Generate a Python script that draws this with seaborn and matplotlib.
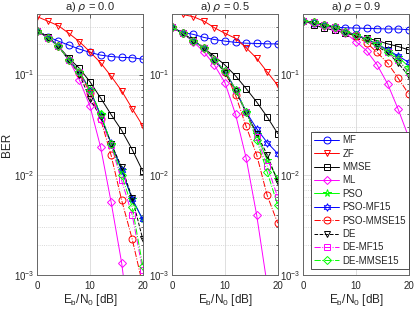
import numpy as np
import pandas as pd
import matplotlib
matplotlib.use('Agg')
import matplotlib.pyplot as plt
import seaborn as sns
from matplotlib.ticker import LogLocator, NullFormatter

# Eb/N0 grid [dB]
snr = [0, 2, 4, 6, 8, 10, 12, 14, 16, 18, 20]

# rho = 0.0
mf_00 = [0.273, 0.238, 0.215, 0.196, 0.179, 0.166, 0.156, 0.151, 0.148, 0.147, 0.142]
zf_00 = [0.376, 0.340, 0.306, 0.257, 0.212, 0.168, 0.131, 0.0962, 0.0687, 0.0458, 0.0308]
mmse_00 = [0.273, 0.238, 0.192, 0.145, 0.115, 0.0845, 0.0585, 0.0399, 0.0278, 0.0179, 0.0109]
ml_00 = [0.273, 0.232, 0.192, 0.139, 0.0878, 0.0483, 0.0190, 0.00537, 0.00133, 0.0002, 0.00002]
pso_00 = [0.273, 0.232, 0.192, 0.139, 0.106, 0.070, 0.040, 0.0205, 0.0113, 0.0057, 0.0036]
pso_mf_00 = [0.273, 0.232, 0.192, 0.139, 0.106, 0.069, 0.039, 0.0208, 0.0111, 0.0058, 0.0036]
pso_mmse_00 = [0.273, 0.232, 0.192, 0.139, 0.104, 0.066, 0.036, 0.0157, 0.0056, 0.0023, 0.0008]
de_00 = [0.273, 0.232, 0.192, 0.139, 0.100, 0.057, 0.038, 0.0205, 0.012, 0.0059, 0.0023]
de_mf_00 = [0.273, 0.232, 0.192, 0.139, 0.106, 0.070, 0.0358, 0.0197, 0.0088, 0.0040, 0.00112]
de_mmse_00 = [0.273, 0.232, 0.192, 0.139, 0.106, 0.0708, 0.0408, 0.0202, 0.0099, 0.0048, 0.00125]

# rho = 0.5
mf_05 = [0.294, 0.262, 0.251, 0.234, 0.223, 0.215, 0.209, 0.205, 0.204, 0.202, 0.202]
zf_05 = [0.45, 0.396, 0.376, 0.340, 0.292, 0.257, 0.229, 0.185, 0.145, 0.106, 0.078]
mmse_05 = [0.294, 0.257, 0.220, 0.182, 0.152, 0.124, 0.097, 0.0725, 0.0533, 0.0378, 0.0258]
ml_05 = [0.294, 0.257, 0.212, 0.168, 0.124, 0.0825, 0.0400, 0.0148, 0.0040, 0.0008, 0.0001]
pso_05 = [0.294, 0.257, 0.215, 0.185, 0.139, 0.108, 0.0708, 0.0425, 0.0255, 0.0140, 0.0092]
pso_mf_05 = [0.294, 0.257, 0.215, 0.185, 0.139, 0.108, 0.0708, 0.0425, 0.0289, 0.0210, 0.0163]
pso_mmse_05 = [0.294, 0.257, 0.215, 0.185, 0.139, 0.106, 0.0622, 0.0305, 0.0159, 0.00625, 0.0033]
de_05 = [0.294, 0.257, 0.215, 0.185, 0.139, 0.104, 0.068, 0.042, 0.0258, 0.0159, 0.0085]
de_mf_05 = [0.294, 0.257, 0.215, 0.185, 0.139, 0.108, 0.0708, 0.0425, 0.0239, 0.0123, 0.0060]
de_mmse_05 = [0.294, 0.257, 0.215, 0.185, 0.139, 0.108, 0.0708, 0.0425, 0.0224, 0.0107, 0.0050]

# rho = 0.9
mf_09 = [0.345, 0.325, 0.310, 0.296, 0.292, 0.290, 0.288, 0.286, 0.284, 0.284, 0.279]
zf_09 = [0.48, 0.47, 0.47, 0.46, 0.46, 0.46, 0.45, 0.45, 0.45, 0.44, 0.44]
mmse_09 = [0.345, 0.313, 0.290, 0.275, 0.258, 0.243, 0.230, 0.218, 0.202, 0.190, 0.176]
ml_09 = [0.345, 0.325, 0.305, 0.284, 0.258, 0.213, 0.173, 0.125, 0.0807, 0.0451, 0.0237]
pso_09 = [0.345, 0.330, 0.313, 0.296, 0.268, 0.248, 0.225, 0.202, 0.172, 0.149, 0.120]
pso_mf_09 = [0.345, 0.330, 0.313, 0.296, 0.268, 0.248, 0.225, 0.202, 0.176, 0.153, 0.132]
pso_mmse_09 = [0.345, 0.330, 0.313, 0.296, 0.268, 0.240, 0.208, 0.166, 0.130, 0.092, 0.064]
de_09 = [0.345, 0.330, 0.313, 0.296, 0.268, 0.245, 0.220, 0.190, 0.166, 0.130, 0.097]
de_mf_09 = [0.345, 0.330, 0.313, 0.296, 0.268, 0.248, 0.225, 0.202, 0.168, 0.138, 0.105]
de_mmse_09 = [0.345, 0.330, 0.313, 0.296, 0.268, 0.248, 0.225, 0.202, 0.169, 0.140, 0.107]

names = ['MF', 'ZF', 'MMSE', 'ML', 'PSO', 'PSO-MF15', 'PSO-MMSE15', 'DE', 'DE-MF15', 'DE-MMSE15']
panels = [
    ('a) $\\mathit{\\rho}$ = 0.0', [mf_00, zf_00, mmse_00, ml_00, pso_00, pso_mf_00, pso_mmse_00, de_00, de_mf_00, de_mmse_00]),
    ('a) $\\mathit{\\rho}$ = 0.5', [mf_05, zf_05, mmse_05, ml_05, pso_05, pso_mf_05, pso_mmse_05, de_05, de_mf_05, de_mmse_05]),
    ('a) $\\mathit{\\rho}$ = 0.9', [mf_09, zf_09, mmse_09, ml_09, pso_09, pso_mf_09, pso_mmse_09, de_09, de_mf_09, de_mmse_09]),
]

# line styles (MATLAB-like)
colors = ['#0000ff', '#ff0000', '#000000', '#ff00ff', '#00ff00', '#0000ff', '#ff0000', '#000000', '#ff00ff', '#00ff00']
markers = ['o', 'v', 's', 'D', '*', (6, 1, 0), 'o', 'v', 's', 'D']
msizes = [5, 5, 4.5, 4, 5.5, 5.5, 5, 5, 4.5, 4]
lstyles = ['-', '-', '-', '-', '-', '-', '-.', '--', '-.', '-.']

sns.set_theme(style='white')
plt.rcParams['font.family'] = ['Liberation Sans', 'DejaVu Sans']
plt.rcParams['mathtext.default'] = 'regular'
plt.rcParams['font.size'] = 7.5

fig = plt.figure(figsize=(4.15, 3.11), dpi=100)
lefts = [0.0899, 0.4152, 0.7308]

for i, (title, series) in enumerate(panels):
    ax = fig.add_axes([lefts[i], 0.1148, 0.254, 0.840])
    ax.set_yscale('log')
    for name, vals, c, m, ms, ls in zip(names, series, colors, markers, msizes, lstyles):
        df = pd.DataFrame({'snr': snr, 'ber': vals})
        sns.lineplot(data=df, x='snr', y='ber', ax=ax, color=c, marker=m, markersize=ms,
                     markerfacecolor='none', markeredgecolor=c, markeredgewidth=0.7,
                     linestyle=ls, linewidth=0.7, label=name)
    ax.set_xlim(0, 20)
    ax.set_ylim(1e-3, 0.4)
    ax.set_xticks([0, 10, 20])
    ax.yaxis.set_major_locator(LogLocator(base=10, numticks=10))
    ax.yaxis.set_minor_locator(LogLocator(base=10, subs=np.arange(2, 10), numticks=20))
    ax.yaxis.set_minor_formatter(NullFormatter())
    ax.grid(True, which='major', color='0.85', linewidth=0.6, linestyle='-')
    ax.grid(True, which='minor', axis='y', color='0.8', linewidth=0.6, linestyle=':')
    ax.tick_params(which='both', direction='in', top=True, right=True, labelsize=7,
                   colors='0.15')
    ax.tick_params(axis='x', pad=4)
    ax.tick_params(axis='y', pad=2)
    ax.tick_params(which='major', length=3, width=0.5)
    ax.tick_params(which='minor', length=1.5, width=0.5)
    for sp in ax.spines.values():
        sp.set_color('0.4')
        sp.set_linewidth(0.7)
    ax.set_title(title, fontsize=8, pad=3)
    ax.set_xlabel('E$_b$/N$_0$ [dB]', fontsize=8.5, labelpad=1)
    if i == 0:
        ax.set_ylabel('BER', fontsize=8.5, labelpad=1)
    else:
        ax.set_ylabel('')
    if i < 2:
        if ax.get_legend() is not None:
            ax.get_legend().remove()
    else:
        handles, labels = ax.get_legend_handles_labels()
        leg = ax.legend(handles, labels, loc='lower right', bbox_to_anchor=(1.0, 0.025),
                        fontsize=7, frameon=True, fancybox=False, edgecolor='0.2',
                        framealpha=1, handlelength=2.6, handletextpad=0.3,
                        labelspacing=0.35, borderpad=0.3, borderaxespad=0)
        leg.get_frame().set_linewidth(0.6)

fig.savefig('out.png', dpi=100)
